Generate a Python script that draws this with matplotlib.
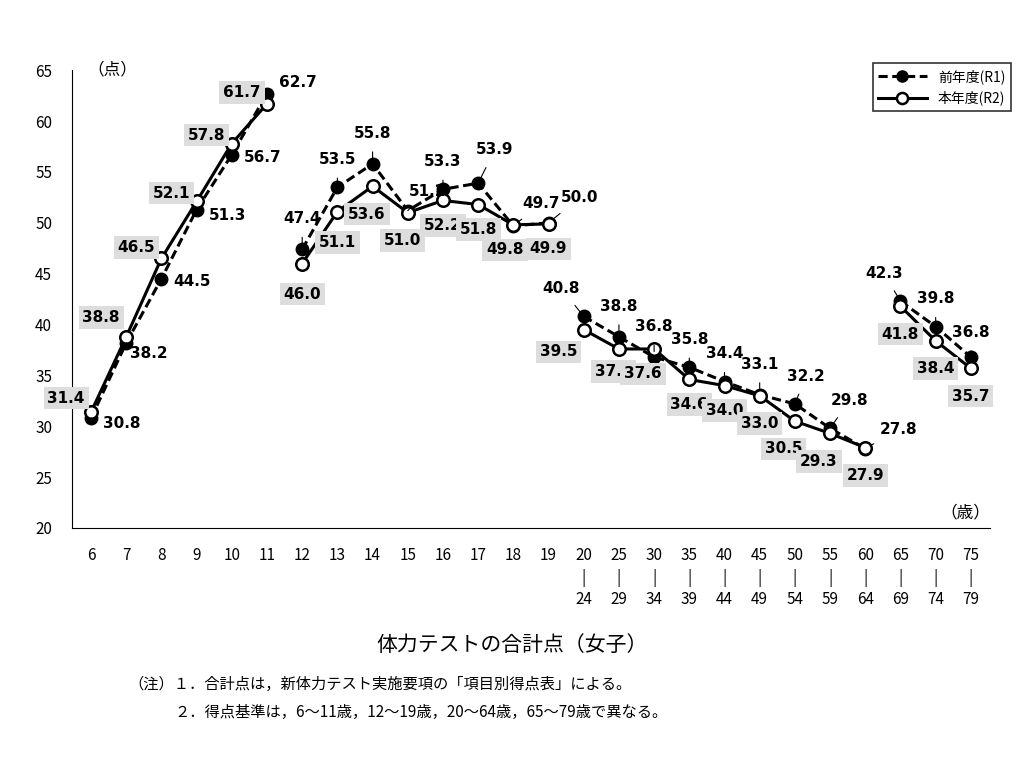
import matplotlib
matplotlib.use("Agg")
import matplotlib.pyplot as plt
from matplotlib.lines import Line2D

plt.rcParams["font.family"] = "Noto Sans CJK JP"

ages = ["6", "7", "8", "9", "10", "11", "12", "13", "14", "15", "16", "17", "18", "19",
        "20\n|\n24", "25\n|\n29", "30\n|\n34", "35\n|\n39", "40\n|\n44", "45\n|\n49",
        "50\n|\n54", "55\n|\n59", "60\n|\n64", "65\n|\n69", "70\n|\n74", "75\n|\n79"]
groups = [(0, 6), (6, 14), (14, 23), (23, 26)]

r1 = [30.8, 38.2, 44.5, 51.3, 56.7, 62.7,
      47.4, 53.5, 55.8, 51.2, 53.3, 53.9, 49.7, 50.0,
      40.8, 38.8, 36.8, 35.8, 34.4, 33.1, 32.2, 29.8, 27.8,
      42.3, 39.8, 36.8]
r2 = [31.4, 38.8, 46.5, 52.1, 57.8, 61.7,
      46.0, 51.1, 53.6, 51.0, 52.2, 51.8, 49.8, 49.9,
      39.5, 37.6, 37.6, 34.6, 34.0, 33.0, 30.5, 29.3, 27.9,
      41.8, 38.4, 35.7]

# label offsets in points (dx, dy)
off1 = [(22, -4), (16, -8), (22, -2), (22, -4), (22, -2), (22, 8),
        (0, 22), (0, 20), (0, 22), (14, 14), (0, 20), (12, 24), (20, 16), (22, 18),
        (-16, 20), (0, 22), (0, 22), (0, 20), (0, 20), (0, 22), (8, 20), (14, 20), (24, 14),
        (-12, 20), (0, 20), (0, 18)]
off2 = [(-18, 10), (-18, 14), (-18, 8), (-18, 6), (-18, 6), (-18, 8),
        (0, -22), (0, -22), (-4, -20), (-4, -20), (0, -18), (0, -18), (-6, -18), (0, -18),
        (-18, -16), (-4, -16), (-8, -18), (0, -18), (0, -18), (0, -20), (-8, -20), (-8, -20), (0, -20),
        (0, -20), (0, -20), (0, -20)]

fig = plt.figure(figsize=(10.24, 7.68), dpi=100)
ax = fig.add_axes([0.07, 0.3125, 0.897, 0.596])
x = list(range(len(ages)))

for a, b in groups:
    ax.plot(x[a:b], r1[a:b], color="black", lw=2.2, ls=(0, (3, 1.5)), marker="o",
            ms=9, mfc="black", mec="black")
    ax.plot(x[a:b], r2[a:b], color="black", lw=2.2, marker="o", ms=9,
            mfc="white", mec="black", mew=1.8)

for i in x:
    ax.annotate(f"{r1[i]:.1f}", (i, r1[i]), xytext=off1[i], textcoords="offset points",
                ha="center", va="center", fontsize=11, fontweight="bold",
                fontfamily="DejaVu Sans",
                arrowprops=dict(arrowstyle="-", lw=0.8, shrinkA=6, shrinkB=4))
    ax.annotate(f"{r2[i]:.1f}", (i, r2[i]), xytext=off2[i], textcoords="offset points",
                ha="center", va="center", fontsize=11, fontweight="bold",
                fontfamily="DejaVu Sans",
                bbox=dict(boxstyle="square,pad=0.25", fc="#dddddd", ec="none"))

ax.set_xlim(-0.55, len(ages) - 0.45)
ax.set_ylim(20, 65)
ax.set_yticks(range(20, 66, 5))
ax.set_xticks(x)
ax.set_xticklabels(ages, fontsize=11, va="top", linespacing=1.3)
ax.tick_params(axis="y", labelsize=11, length=0, pad=14)
ax.tick_params(axis="x", length=0, pad=14)
for s in ["top", "right"]:
    ax.spines[s].set_visible(False)
ax.text(-0.1, 65, "（点）", fontsize=12, va="center")
ax.text(len(ages) - 0.45, 21.5, "（歳）", fontsize=12, ha="right", va="center")

h1 = Line2D([], [], color="black", lw=2.2, ls=(0, (3, 1.5)), marker="o", ms=8, mfc="black")
h2 = Line2D([], [], color="black", lw=2.2, marker="o", ms=8, mfc="white", mew=1.8)
leg = ax.legend([h1, h2], ["前年度(R1)", "本年度(R2)"], loc="upper right",
                bbox_to_anchor=(1.03, 1.03), fancybox=False, edgecolor="black",
                fontsize=10, handlelength=3.5)
leg.get_frame().set_linewidth(1.2)

fig.text(0.5, 0.152, "体力テストの合計点（女子）", ha="center", fontsize=15)
fig.text(0.125, 0.103, "（注）１．合計点は，新体力テスト実施要項の「項目別得点表」による。", fontsize=11)
fig.text(0.17, 0.066, "２．得点基準は，6～11歳，12～19歳，20～64歳，65～79歳で異なる。", fontsize=11)

fig.savefig("out.png", dpi=100)
